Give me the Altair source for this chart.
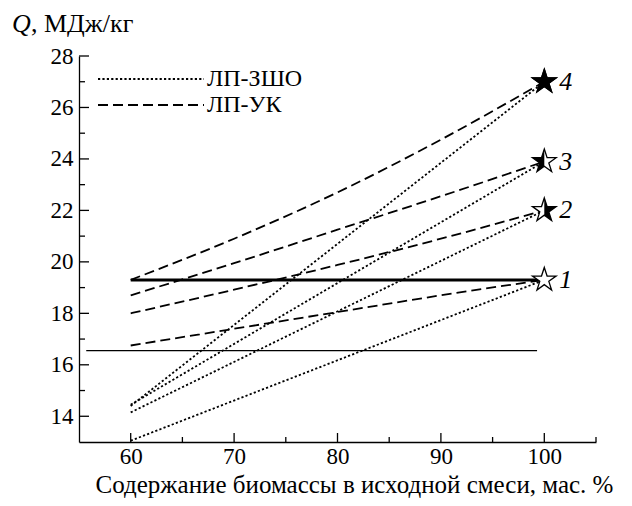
import altair as alt
import pandas as pd

# ---- data ----
x_major = [60, 70, 80, 90, 100]
x_minor = [65, 75, 85, 95, 105]
y_major = [14, 16, 18, 20, 22, 24, 26, 28]
y_minor = [15, 17, 19, 21, 23, 25, 27]

star_ids = ["1", "2", "3", "4"]
star_x = [100, 100, 100, 100]
star_y = [19.3, 22.0, 23.9, 27.0]
star_fill = ["none", "right", "left", "full"]

zsho_x = [60, 100]
zsho_start = [13.05, 14.15, 14.45, 14.4]   # ЛП-ЗШО, value at 60 % for series 1..4

uk_x = [60, 70, 80, 90, 100]
uk_1 = [16.75, 17.4, 18.05, 18.7, 19.3]
uk_2 = [18.0, 18.92, 19.88, 20.9, 22.0]
uk_3 = [18.7, 19.95, 21.25, 22.55, 23.9]
uk_4 = [19.3, 20.9, 22.7, 24.75, 27.0]

thick_x = [60, 100]
thick_y = [19.3, 19.3]
thin_x = [55.7, 99.3]
thin_y = [16.55, 16.55]

T_ZSHO = "ЛП-ЗШО"
T_UK = "ЛП-УК"

# ---- tables ----
rows = []
for sid, y0, y1 in zip(star_ids, zsho_start, star_y):
    rows.append({"x": zsho_x[0], "y": y0, "s": "z" + sid, "type": T_ZSHO})
    rows.append({"x": zsho_x[1], "y": y1, "s": "z" + sid, "type": T_ZSHO})
for sid, ys_ in zip(star_ids, [uk_1, uk_2, uk_3, uk_4]):
    for xv, yv in zip(uk_x, ys_):
        rows.append({"x": xv, "y": yv, "s": "u" + sid, "type": T_UK})
lines_df = pd.DataFrame(rows)

stars_df = pd.DataFrame({"x": star_x, "y": star_y, "id": star_ids, "fill": star_fill})
thick_df = pd.DataFrame({"x": thick_x, "y": thick_y})
thin_df = pd.DataFrame({"x": thin_x, "y": thin_y})
xmaj_df = pd.DataFrame({"v": x_major})
xmin_df = pd.DataFrame({"v": x_minor})
ymaj_df = pd.DataFrame({"v": y_major})
ymin_df = pd.DataFrame({"v": y_minor})

W, H = 517, 386
FONT = "Liberation Serif"
FS = 23

xs = alt.Scale(domain=[55, 105], nice=False, zero=False)
ys = alt.Scale(domain=[13, 28], nice=False, zero=False)

STAR = ("M0,-1 L0.2245,-0.309 L0.951,-0.309 L0.363,0.118 L0.588,0.809 "
        "L0,0.382 L-0.588,0.809 L-0.363,0.118 L-0.951,-0.309 L-0.2245,-0.309 Z")
LEFT = "M0,-1 L-0.2245,-0.309 L-0.951,-0.309 L-0.363,0.118 L-0.588,0.809 L0,0.382 Z"
RIGHT = "M0,-1 L0.2245,-0.309 L0.951,-0.309 L0.363,0.118 L0.588,0.809 L0,0.382 Z"

x_axis = alt.Axis(values=x_major, ticks=False, labelPadding=3, labelFont=FONT,
                  labelFontSize=FS, labelColor="black", domainColor="black",
                  domainWidth=1.3, grid=False,
                  title="Содержание биомассы в исходной смеси, мас. %",
                  titleFont=FONT, titleFontSize=25, titleFontWeight="normal",
                  titleColor="black", titleX=275, titleY=50,
                  titleBaseline="alphabetic")
y_axis = alt.Axis(values=y_major, ticks=False, labelPadding=6, labelFont=FONT,
                  labelFontSize=FS, labelColor="black", domainColor="black",
                  domainWidth=1.3, grid=False, title=None)

base_lines = alt.Chart(lines_df).mark_line(color="black", strokeWidth=1.8,
                                             interpolate="monotone").encode(
    x=alt.X("x:Q", scale=xs, axis=x_axis),
    y=alt.Y("y:Q", scale=ys, axis=y_axis),
    detail="s:N",
    strokeDash=alt.StrokeDash(
        "type:N",
        scale=alt.Scale(domain=[T_ZSHO, T_UK], range=[[2.2, 2.2], [10, 5]]),
        legend=alt.Legend(orient="none", legendX=18, legendY=10, title=None,
                          symbolType="stroke", symbolSize=11236,
                          symbolStrokeWidth=1.8, symbolStrokeColor="black",
                          labelFont=FONT, labelFontSize=24, labelColor="black",
                          clipHeight=26, rowPadding=0, labelOffset=2, padding=0),
    ),
)

thick = alt.Chart(thick_df).mark_line(color="black", strokeWidth=3).encode(
    x=alt.X("x:Q", scale=xs), y=alt.Y("y:Q", scale=ys))
thin = alt.Chart(thin_df).mark_line(color="black", strokeWidth=1.2).encode(
    x=alt.X("x:Q", scale=xs), y=alt.Y("y:Q", scale=ys))

star_base = alt.Chart(stars_df).encode(x=alt.X("x:Q", scale=xs), y=alt.Y("y:Q", scale=ys))
star_outline = star_base.mark_point(shape=STAR, size=620, filled=True, fill="white",
                                    stroke="black", strokeWidth=1.3, opacity=1)
star_left = star_base.transform_filter(alt.datum.fill == "left").mark_point(
    shape=LEFT, size=620, filled=True, fill="black", strokeWidth=0, opacity=1)
star_right = star_base.transform_filter(alt.datum.fill == "right").mark_point(
    shape=RIGHT, size=620, filled=True, fill="black", strokeWidth=0, opacity=1)
star_full = star_base.transform_filter(alt.datum.fill == "full").mark_point(
    shape=STAR, size=620, filled=True, fill="black", stroke="black",
    strokeWidth=1.3, opacity=1)
star_text = star_base.mark_text(align="left", baseline="middle", dx=15, font=FONT,
                                fontSize=26, fontStyle="italic", color="black").encode(
    text="id:N")

xt_major = alt.Chart(xmaj_df).mark_rule(color="black", strokeWidth=1.3).encode(
    x=alt.X("v:Q", scale=xs), y=alt.value(H), y2=alt.value(H - 9))
xt_minor = alt.Chart(xmin_df).mark_rule(color="black", strokeWidth=1.3).encode(
    x=alt.X("v:Q", scale=xs), y=alt.value(H), y2=alt.value(H - 5))
yt_major = alt.Chart(ymaj_df).mark_rule(color="black", strokeWidth=1.3).encode(
    y=alt.Y("v:Q", scale=ys), x=alt.value(0), x2=alt.value(10))
yt_minor = alt.Chart(ymin_df).mark_rule(color="black", strokeWidth=1.3).encode(
    y=alt.Y("v:Q", scale=ys), x=alt.value(0), x2=alt.value(6))

q_title = alt.Chart(pd.DataFrame({"t": ["Q"]})).mark_text(
    align="left", baseline="alphabetic", font=FONT, fontSize=26,
    fontStyle="italic", color="black").encode(
    text="t:N", x=alt.value(-67), y=alt.value(-24))
unit_title = alt.Chart(pd.DataFrame({"t": [", МДж/кг"]})).mark_text(
    align="left", baseline="alphabetic", font=FONT, fontSize=26,
    color="black").encode(
    text="t:N", x=alt.value(-48), y=alt.value(-24))

chart = alt.layer(
    base_lines, thin, thick, xt_major, xt_minor, yt_major, yt_minor,
    star_outline, star_left, star_right, star_full, star_text, q_title, unit_title
).properties(
    width=W, height=H,
    autosize=alt.AutoSizeParams(type="none"),
    padding={"left": 71, "top": 48, "right": 28, "bottom": 56},
    background="white",
).configure_view(stroke=None)

chart.save("out.html", embed_options={"renderer": "svg", "actions": False})
